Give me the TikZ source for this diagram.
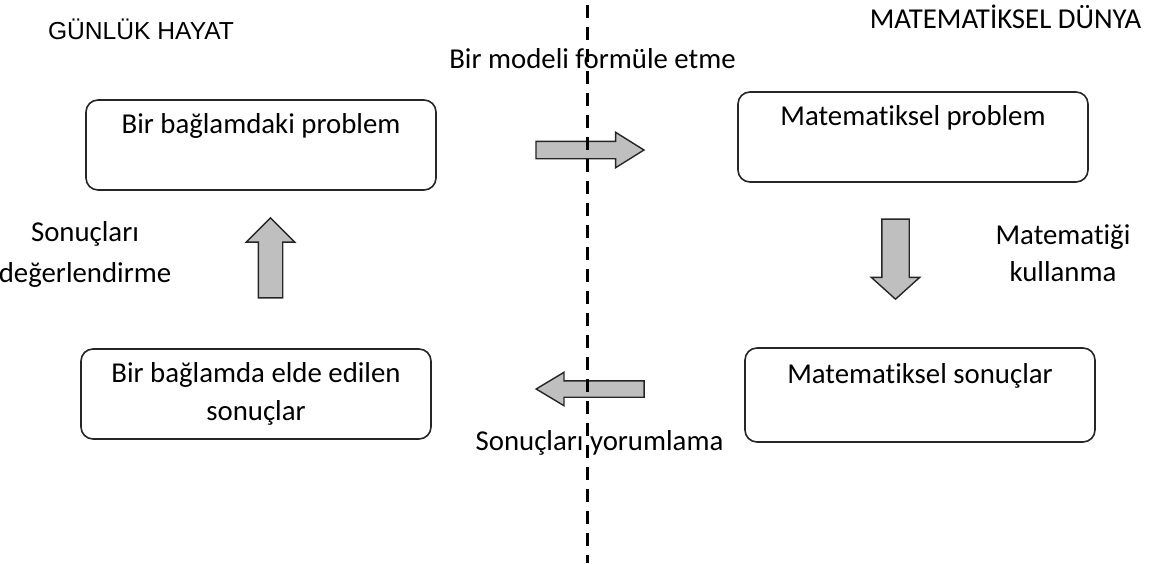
\documentclass[tikz,border=0pt]{standalone}
\usepackage{fontspec}
\setmainfont{Carlito}[Ligatures=NoCommon]
\newfontfamily\arialfont{Liberation Sans}
\usepackage{tikz}
\usetikzlibrary{positioning}
\usetikzlibrary{shapes.arrows}
\newcommand{\boxfont}{\fontsize{14.4}{19}\selectfont}
\tikzset{main box/.style={rectangle,rounded corners=6pt,draw=black!85,line width=0.8pt,minimum width=175pt,minimum height=45pt,inner sep=0pt,align=center,font=\boxfont},
	block arrow/.style={single arrow,draw=black!85,fill=black!25,line width=0.7pt,inner xsep=0pt},
	side label/.style={align=center,inner sep=0pt},}

\begin{document}
\begin{tikzpicture}[x=0.5pt, y=-0.5pt, font=\boxfont]
		\useasboundingbox (0,0) rectangle (1151,563);
		\node[main box] (problem) at (261,145) {\strut Bir bağlamdaki problem\\ \strut};
		\node[main box] (mproblem) at (913,137) {\strut Matematiksel problem\\ \strut};
		\node[main box] (results) at (256,394) {\strut Bir bağlamda elde edilen\\ \strut sonuçlar};
		\node[main box, minimum height=47pt] (mresults) at (920,395) {\strut Matematiksel sonuçlar\\ \strut};
	
		\node[block arrow, minimum height=54pt, inner ysep=4pt, single arrow head extend=4.5pt, single arrow tip angle=64] (formulate) at (583,150) {};
		\node[block arrow, minimum height=54pt, inner ysep=3.75pt, single arrow head extend=4.25pt, single arrow tip angle=62, rotate=180] (interpret) at (597,389) {};
		\node[block arrow, minimum height=40pt, inner ysep=5.75pt, single arrow head extend=6pt, single arrow tip angle=90, rotate=90] (validate) at (270.5,264) {};
		\node[block arrow, minimum height=40pt, inner ysep=6.5pt, single arrow head extend=5.25pt, single arrow tip angle=96, rotate=-90] (solve) at (895.5,253) {};
	
		\node[inner sep=0pt, anchor=base, font=\arialfont\fontsize{12.3}{14}\selectfont] (daily) at (141,39) {GÜNLÜK HAYAT};
		\node[inner sep=0pt, anchor=base] (mathworld) at (1005.5,28) {MATEMATİKSEL DÜNYA};
		\node[inner sep=0pt, anchor=base] (formlabel) at (592.5,68) {Bir modeli formüle etme};
		\node[inner sep=0pt, anchor=base] (interlabel) at (599.5,450) {Sonuçları yorumlama};
		\node[side label, font=\fontsize{14.4}{20.5}\selectfont] (validlabel) at (85,254) {\strut Sonuçları\\ \strut değerlendirme};
		\node[side label, font=\fontsize{14.4}{18.5}\selectfont] (solvelabel) at (1063,256) {\strut Matematiği\\ \strut kullanma};
	
		\coordinate (top) at (587,5);
		\coordinate (bottom) at (587,563);
		\draw[line width=1.5pt, dash pattern=on 6.5pt off 4.5pt] (top) -- (bottom);
	\end{tikzpicture}
\end{document}
